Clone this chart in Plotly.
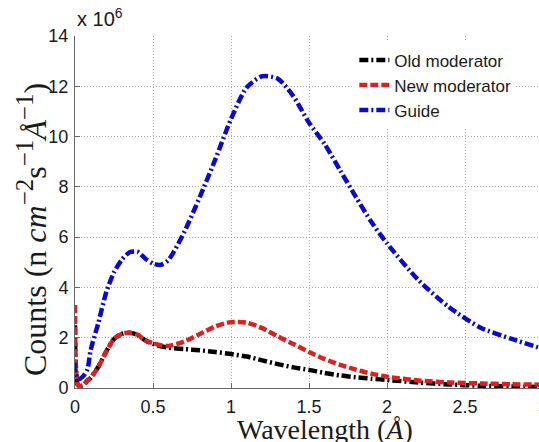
import plotly.graph_objects as go

# Wavelength (Angstrom) sample points
wavelength = [0, 0.005, 0.02, 0.05, 0.08, 0.1, 0.15, 0.2, 0.25, 0.3, 0.35, 0.4,
              0.45, 0.5, 0.55, 0.6, 0.7, 0.8, 0.9, 1.0, 1.1, 1.2, 1.3, 1.4, 1.5,
              1.6, 1.7, 1.8, 1.9, 2.0, 2.2, 2.4, 2.6, 2.8, 3.0]

# Counts in units of 1e6
old_moderator = [2.5, 0.8, 0.1, 0.1, 0.3, 0.4, 0.85, 1.45, 1.95, 2.15, 2.2, 2.12,
                 1.9, 1.75, 1.66, 1.6, 1.55, 1.5, 1.43, 1.35, 1.25, 1.1, 0.95, 0.82,
                 0.72, 0.6, 0.5, 0.43, 0.37, 0.32, 0.22, 0.14, 0.09, 0.06, 0.04]
new_moderator = [3.3, 1.0, 0.1, 0.1, 0.3, 0.4, 0.85, 1.45, 1.95, 2.15, 2.2, 2.12,
                 1.9, 1.78, 1.7, 1.67, 1.85, 2.15, 2.45, 2.62, 2.6, 2.38, 2.05, 1.75,
                 1.43, 1.15, 0.92, 0.73, 0.57, 0.45, 0.3, 0.22, 0.18, 0.15, 0.13]
guide = [1.0, 0.6, 0.35, 0.45, 0.75, 1.5, 2.6, 3.8, 4.6, 5.1, 5.4, 5.42,
         5.15, 4.95, 4.9, 5.1, 6.2, 7.6, 9.1, 10.7, 11.95, 12.4, 12.3, 11.6,
         10.55, 9.7, 8.65, 7.6, 6.6, 5.75, 4.3, 3.2, 2.4, 1.95, 1.55]

series_names = ["Old moderator", "New moderator", "Guide"]
x_ticks = [0, 0.5, 1, 1.5, 2, 2.5]
x_tick_labels = ["0", "0.5", "1", "1.5", "2", "2.5"]
y_ticks = [0, 2, 4, 6, 8, 10, 12, 14]
y_tick_labels = ["0", "2", "4", "6", "8", "10", "12", "14"]

fig = go.Figure()
styles = [
    ("#000000", "9px,3px,2px,3px"),
    ("#dd1f1f", "8px,3px"),
    ("#0a0acc", "9px,3px,2px,3px"),
]
for name, ys, (col, dash) in zip(series_names, [old_moderator, new_moderator, guide], styles):
    fig.add_trace(go.Scatter(
        x=wavelength, y=ys, name=name, mode="lines",
        line=dict(color=col, width=4.5, dash=dash, shape="spline", smoothing=0.7),
    ))

tick_font = dict(family="Liberation Sans, Arial, sans-serif", size=18, color="#1a1a1a")
axis_common = dict(
    showline=True, linecolor="#666666", linewidth=1,
    showgrid=True, gridcolor="#a8a8a8", griddash="1px,2px", gridwidth=1,
    zeroline=False, ticks="inside", ticklen=5, tickcolor="#666666",
    tickfont=tick_font,
)
fig.update_xaxes(range=[0, 2.974], tickvals=x_ticks, ticktext=x_tick_labels,
                 ticklabelstandoff=2, **axis_common)
fig.update_yaxes(range=[0, 14], tickvals=y_ticks, ticktext=y_tick_labels,
                 ticklabelstandoff=2, **axis_common)

serif = "Liberation Serif, Times New Roman, serif"
sup = '<sup><span style="font-size:25px">{}</span></sup>'
ytitle = ("Counts (n <i>cm</i>" + sup.format("−2") + "s" + sup.format("−1")
          + "<i>Å</i>" + sup.format("−1") + ")")

fig.add_annotation(text="x 10<sup>6</sup>", xref="paper", yref="paper", x=0, y=1,
                   xanchor="left", yanchor="bottom", yshift=4, showarrow=False,
                   font=dict(family="Liberation Sans, Arial, sans-serif", size=20, color="#1a1a1a"))
fig.add_annotation(text="3", xref="paper", yref="paper", x=(543 - 75) / 464, y=0,
                   xanchor="center", yanchor="top", yshift=-7, showarrow=False, font=tick_font)
fig.add_annotation(text="Wavelength (<i>Å</i>)", xref="paper", yref="paper",
                   x=(325 - 75) / 464, y=(388 - 412) / 352, xanchor="center", yanchor="top",
                   showarrow=False, font=dict(family=serif, size=28, color="#1a1a1a"))
fig.add_annotation(text=ytitle,
                   xref="paper", yref="paper", x=(32 - 75) / 464, y=(388 - 230) / 352,
                   xanchor="center", yanchor="middle", textangle=-90, showarrow=False,
                   font=dict(family=serif, size=32, color="#1a1a1a"))

fig.update_layout(
    width=539, height=442, autosize=False,
    margin=dict(l=75, r=0, t=36, b=54),
    plot_bgcolor="white", paper_bgcolor="white",
    showlegend=True,
    legend=dict(x=0.602, y=0.982, xanchor="left", yanchor="top",
                bgcolor="white", borderwidth=0, tracegroupgap=0,
                font=dict(family="Liberation Sans, Arial, sans-serif", size=17, color="#1a1a1a")),
)

fig.write_html("out.html")
